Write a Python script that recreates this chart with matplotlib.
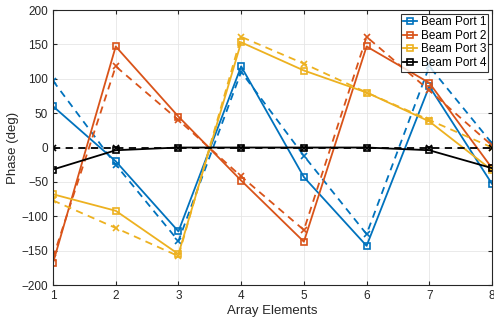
import matplotlib
matplotlib.use("Agg")
import matplotlib.pyplot as plt

plt.rcParams['font.family'] = ['Liberation Sans', 'DejaVu Sans']

elements = [1, 2, 3, 4, 5, 6, 7, 8]
labels = ["Beam Port 1", "Beam Port 2", "Beam Port 3", "Beam Port 4"]
colors = ["#0072BD", "#D95319", "#EDB120", "#000000"]

# measured (solid, squares)
meas_p1 = [60, -20, -122, 118, -43, -143, 89, -53]
meas_p2 = [-168, 147, 45, -48, -137, 147, 94, -30]
meas_p3 = [-68, -92, -155, 153, 112, 80, 38, -33]
meas_p4 = [-32, -4, 0, 0, 0, 0, -4, -30]
# ideal (dashed, x)
ideal_p1 = [97, -25, -136, 110, -12, -126, 118, 6]
ideal_p2 = [-160, 118, 40, -42, -120, 161, 83, 3]
ideal_p3 = [-77, -117, -158, 161, 122, 80, 40, 0]
ideal_p4 = [0, 0, 0, 0, 0, 0, 0, 0]

meas = [meas_p1, meas_p2, meas_p3, meas_p4]
ideal = [ideal_p1, ideal_p2, ideal_p3, ideal_p4]

fig = plt.figure(figsize=(4.94, 3.27), dpi=100)
ax = fig.add_axes([0.1073, 0.1284, 0.8887, 0.841])

for lab, c, m, i in zip(labels, colors, meas, ideal):
    ax.plot(elements, m, '-s', color=c, lw=1.3, ms=5, mfc='none', mew=1.2, label=lab)
    ax.plot(elements, i, color=c, ls=(0, (4, 3)), marker='x', lw=1.3, ms=5, mew=1.2)

ax.set_xlim(1, 8)
ax.set_ylim(-200, 200)
ax.set_xticks(elements)
ax.set_yticks(range(-200, 201, 50))
ax.grid(True, color='#e6e6e6', lw=0.6)
ax.set_axisbelow(True)
ax.tick_params(direction='in', top=True, right=True, labelsize=8.5, length=3, color='#262626', labelcolor='#262626')
for s in ax.spines.values():
    s.set_color('#262626')
    s.set_linewidth(0.8)
ax.set_xlabel("Array Elements", fontsize=9.5, color='#262626', labelpad=2)
ax.set_ylabel("Phase (deg)", fontsize=9.5, color='#262626', labelpad=2)

leg = ax.legend(loc='upper right', fontsize=8.5, frameon=True, fancybox=False,
                edgecolor='black', handlelength=1.2, handletextpad=0.3,
                borderpad=0.2, labelspacing=0.15, borderaxespad=0.3, markerscale=0.8)
leg.get_frame().set_linewidth(0.8)

fig.savefig("out.png", dpi=100)
